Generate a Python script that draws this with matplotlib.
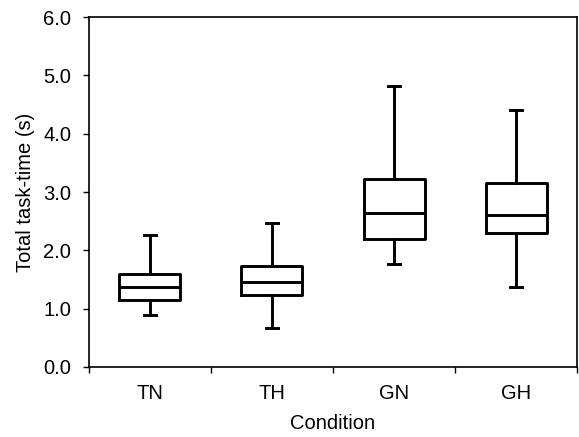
import matplotlib
matplotlib.use("Agg")
import matplotlib.pyplot as plt
from matplotlib.ticker import FixedLocator, NullFormatter

plt.rcParams['font.family'] = ['Liberation Sans', 'DejaVu Sans']

categories = ["TN", "TH", "GN", "GH"]
whisker_low = [0.89, 0.66, 1.77, 1.38]
q1 = [1.15, 1.23, 2.19, 2.30]
median = [1.38, 1.46, 2.64, 2.60]
q3 = [1.60, 1.74, 3.23, 3.15]
whisker_high = [2.26, 2.47, 4.81, 4.41]
y_ticks = [0.0, 1.0, 2.0, 3.0, 4.0, 5.0, 6.0]

stats = []
for i, c in enumerate(categories):
    stats.append(dict(label=c, whislo=whisker_low[i], q1=q1[i], med=median[i],
                      q3=q3[i], whishi=whisker_high[i], fliers=[]))

fig = plt.figure(figsize=(5.79, 4.37), dpi=100)
ax = fig.add_axes([0.1532, 0.1602, 0.8438, 0.8008])
lw = 2.1
ax.bxp(stats, positions=range(1, 5), widths=0.5, showfliers=False,
       boxprops=dict(color='black', linewidth=lw),
       medianprops=dict(color='black', linewidth=lw),
       whiskerprops=dict(color='black', linewidth=lw),
       capprops=dict(color='black', linewidth=lw),
       capwidths=0.1)
ax.set_xlim(0.5, 4.5)
ax.set_ylim(0, 6)
ax.set_yticks(y_ticks)
ax.set_yticklabels([f"{v:.1f}" for v in y_ticks])
ax.set_xticks([1, 2, 3, 4])
ax.set_xticklabels(categories)
fs = 14.5
ax.tick_params(axis='x', which='major', length=0, pad=12, labelsize=fs)
ax.xaxis.set_minor_locator(FixedLocator([0.5, 1.5, 2.5, 3.5, 4.5]))
ax.xaxis.set_minor_formatter(NullFormatter())
ax.tick_params(axis='x', which='minor', length=4.5, width=1, direction='out')
ax.tick_params(axis='y', length=4.5, width=1, direction='out', labelsize=fs, pad=8)
for s in ax.spines.values():
    s.set_linewidth(1.2)
ax.set_xlabel("Condition", fontsize=fs, labelpad=8)
ax.set_ylabel("Total task-time (s)", fontsize=fs, labelpad=6)
fig.savefig("out.png", dpi=100)
